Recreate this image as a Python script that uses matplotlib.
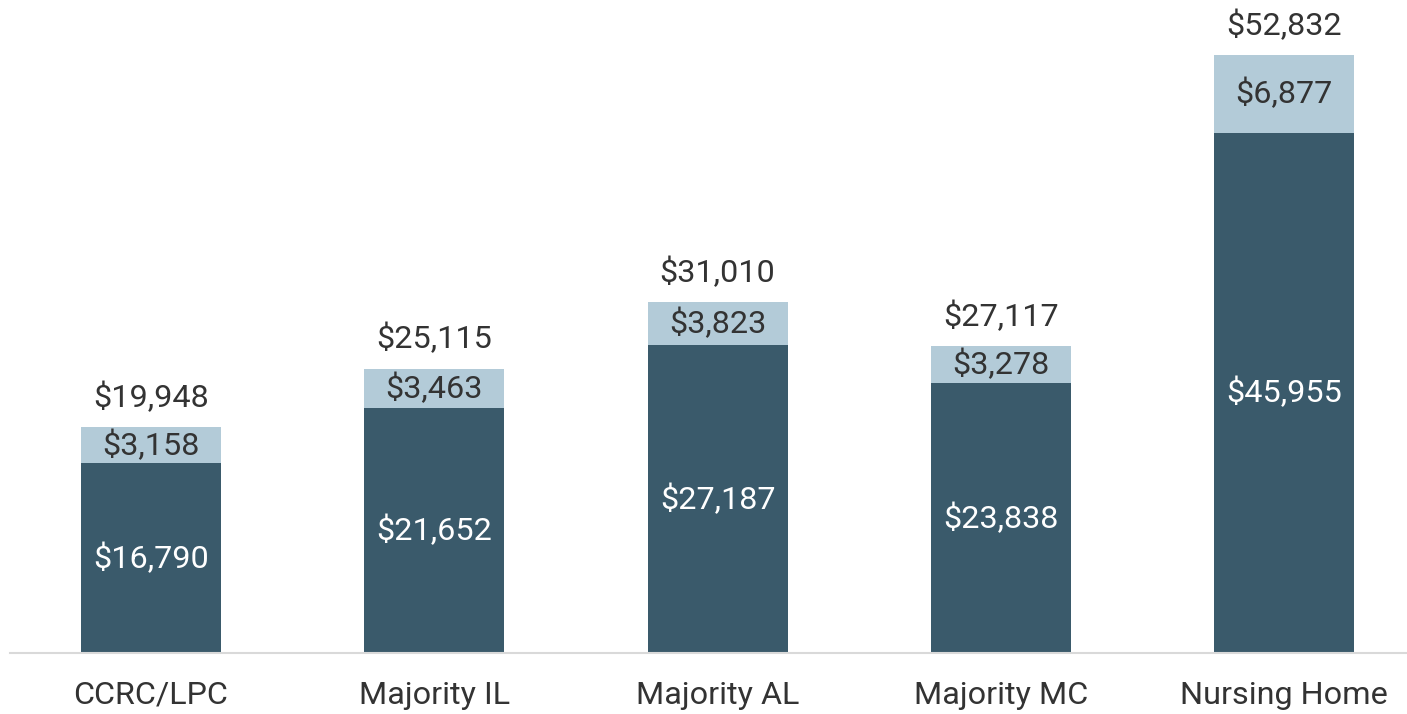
import matplotlib.pyplot as plt

plt.rcParams['font.family'] = ['Roboto', 'DejaVu Sans']

categories = ["CCRC/LPC", "Majority IL", "Majority AL", "Majority MC", "Nursing Home"]
base_vals = [16790, 21652, 27187, 23838, 45955]
top_vals = [3158, 3463, 3823, 3278, 6877]
totals = [19948, 25115, 31010, 27117, 52832]

dark = "#3a5a6b"
light = "#b3cbd8"
txt = "#333333"
fs = 23.3

fig = plt.figure(figsize=(14.07, 7.14), dpi=100)
ax = fig.add_axes([10 / 1407, 61 / 714, 1397 / 1407, 653 / 714])

x = list(range(len(categories)))
w = 0.494
ax.bar(x, base_vals, width=w, color=dark)
ax.bar(x, top_vals, width=w, bottom=base_vals, color=light)

for i in x:
    ax.text(i, base_vals[i] / 2, "${:,}".format(base_vals[i]), ha='center', va='center',
            color='white', fontsize=fs)
    ax.text(i, base_vals[i] + top_vals[i] / 2, "${:,}".format(top_vals[i]), ha='center',
            va='center', color=txt, fontsize=fs)
    ax.text(i, totals[i] + 1250, "${:,}".format(totals[i]), ha='center', va='bottom',
            color=txt, fontsize=fs)

ax.set_xlim(-0.498, 4.434)
ax.set_ylim(0, 52832 * 653 / 598)
ax.set_xticks(x)
ax.set_xticklabels(categories, fontsize=fs, color=txt)
ax.tick_params(axis='x', length=0, pad=20)
ax.set_yticks([])
for s in ['top', 'right', 'left']:
    ax.spines[s].set_visible(False)
ax.spines['bottom'].set_color('#d9d9d9')
ax.spines['bottom'].set_linewidth(1.5)

fig.savefig("out.png", dpi=100)
